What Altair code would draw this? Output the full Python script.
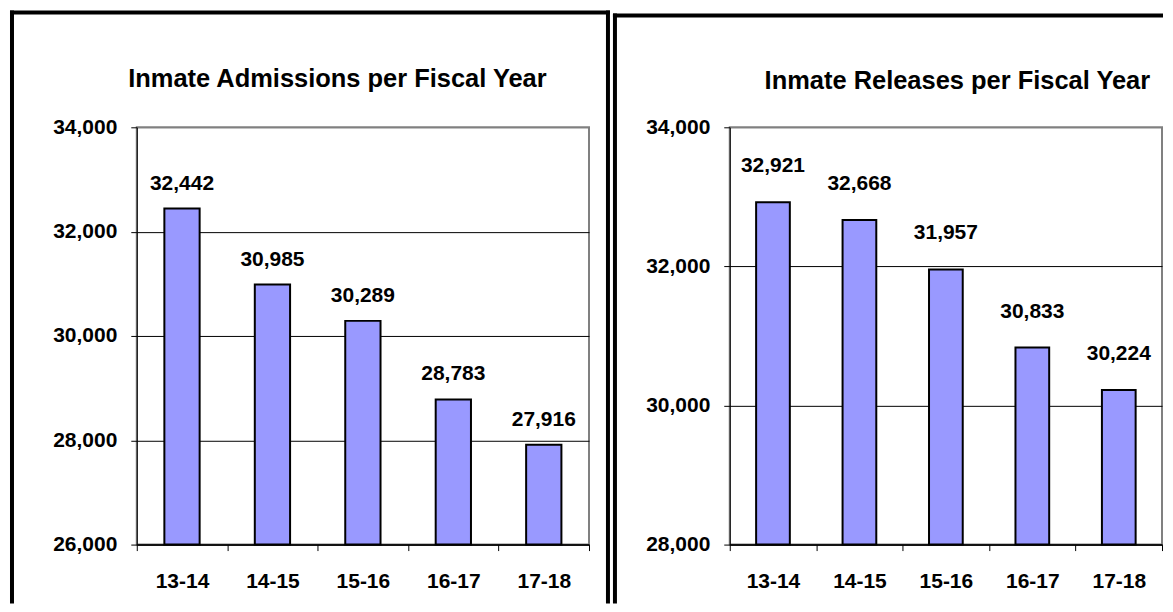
import altair as alt
import pandas as pd

years = ["13-14", "14-15", "15-16", "16-17", "17-18"]
admissions = [32442, 30985, 30289, 28783, 27916]
releases = [32921, 32668, 31957, 30833, 30224]
adm_ticks = [26000, 28000, 30000, 32000, 34000]
rel_ticks = [28000, 30000, 32000, 34000]
titles = ["Inmate Admissions per Fiscal Year", "Inmate Releases per Fiscal Year"]

FONT = "Liberation Sans"
BAR = "#9999FF"
H = 418


def panel(values, ticks, title, width, frame, title_pos, label_dy):
    df = pd.DataFrame({"year": years, "count": values})
    x = alt.X(
        "year:N", sort=years,
        scale=alt.Scale(paddingInner=0, paddingOuter=0),
        axis=alt.Axis(title=None, labelAngle=0, tickBand="extent", grid=False,
                      labelFont=FONT, labelFontSize=21, labelFontWeight="bold",
                      labelColor="black", tickColor="black", tickSize=6,
                      domainColor="black", domainWidth=1.5, labelPadding=20),
    )
    y = alt.Y(
        "count:Q",
        scale=alt.Scale(domain=[ticks[0], ticks[-1]], nice=False, zero=False),
        axis=alt.Axis(title=None, values=ticks, format=",d",
                      labelFont=FONT, labelFontSize=21, labelFontWeight="bold",
                      labelColor="black", tickColor="black", tickSize=6,
                      domainColor="black", domainWidth=1, labelPadding=14,
                      grid=True, gridWidth=1,
                      gridColor={"condition": {"test": f"datum.value >= {ticks[-1]}",
                                               "value": "#808080"},
                                 "value": "black"}),
    )
    bars = alt.Chart(df).mark_bar(
        fill=BAR, stroke="black", strokeWidth=2, width={"band": 0.39}
    ).encode(x=x, y=y, y2=alt.datum(ticks[0]))
    labels = alt.Chart(df).mark_text(
        font=FONT, fontSize=21, fontWeight="bold", color="black",
        baseline="alphabetic", dy=label_dy
    ).encode(x=x, y=y, text=alt.Text("count:Q", format=",d"))

    one = pd.DataFrame({"t": [title]})
    ttl = alt.Chart(one).mark_text(
        font=FONT, fontSize=25.5, fontWeight="bold", color="black",
        align="center", baseline="middle"
    ).encode(text="t:N", x=alt.value(title_pos[0]), y=alt.value(title_pos[1]))

    xl, xr, yt, yb, draw_right = frame
    rule = dict(color="black", strokeWidth=4, strokeCap="square")
    fr_top = alt.Chart(one).mark_rule(**rule).encode(
        x=alt.value(xl), x2=alt.value(xr), y=alt.value(yt))
    fr_left = alt.Chart(one).mark_rule(**rule).encode(
        x=alt.value(xl), y=alt.value(yt), y2=alt.value(yb))
    layers = [bars, labels, ttl, fr_top, fr_left]
    if draw_right:
        layers.append(alt.Chart(one).mark_rule(**rule).encode(
            x=alt.value(xr), y=alt.value(yt), y2=alt.value(yb)))
    return alt.layer(*layers).properties(width=width, height=H)


left = panel(admissions, adm_ticks, titles[0], 453,
             (-125, 472, -115, 475, True), (201, -48), -19)
right = panel(releases, rel_ticks, titles[1], 433,
              (-115, 432, -112, 475, False), (228, -46), -30)

chart = alt.hconcat(left, right, spacing=141, bounds="flush").properties(
    padding=0
).configure_view(stroke="#808080", strokeWidth=2)

chart.save("out.html", embed_options={"renderer": "svg", "actions": False})
